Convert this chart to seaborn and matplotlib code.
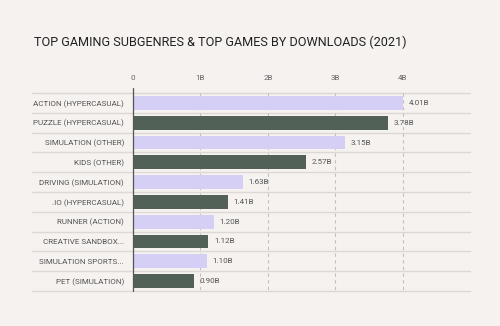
import matplotlib
matplotlib.use("Agg")
import matplotlib.pyplot as plt
import matplotlib.transforms as mtransforms
import seaborn as sns
import pandas as pd

categories = ["ACTION (HYPERCASUAL)", "PUZZLE (HYPERCASUAL)", "SIMULATION (OTHER)",
              "KIDS (OTHER)", "DRIVING (SIMULATION)", ".IO (HYPERCASUAL)",
              "RUNNER (ACTION)", "CREATIVE SANDBOX...", "SIMULATION SPORTS...",
              "PET (SIMULATION)"]
downloads = [4.01, 3.78, 3.15, 2.57, 1.63, 1.41, 1.20, 1.12, 1.10, 0.90]
value_labels = ["4.01B", "3.78B", "3.15B", "2.57B", "1.63B", "1.41B", "1.20B",
                "1.12B", "1.10B", "0.90B"]
tick_values = [0, 1, 2, 3, 4]
tick_labels = ["0", "1B", "2B", "3B", "4B"]
title = "TOP GAMING SUBGENRES & TOP GAMES BY DOWNLOADS (2021)"

BG = "#f5f2f0"
LIGHT = "#d1c9fc"
DARK = "#4f6357"
colors = [LIGHT if i % 2 == 0 else DARK for i in range(len(categories))]

df = pd.DataFrame({"category": categories, "downloads": downloads})

sns.set_theme(style="white")
plt.rcParams["font.family"] = ["Roboto", "DejaVu Sans"]

fig = plt.figure(figsize=(5, 3.26), dpi=100, facecolor=BG)
ax = fig.add_axes([0.266, 0.1074, 0.674, 0.6073], facecolor=BG)

sns.barplot(data=df, y="category", x="downloads", hue="category",
            palette=colors, legend=False, orient="h", width=0.7,
            edgecolor="none", ax=ax, zorder=3)

ax.set_xlim(0, 5.0)
ax.set_ylim(len(categories) - 0.5, -0.5)
ax.set_xlabel("")
ax.set_ylabel("")
for s in ax.spines.values():
    s.set_visible(False)

ax.xaxis.tick_top()
ax.set_xticks(tick_values)
ax.set_xticklabels(tick_labels, fontsize=5.8, color="#666666")
ax.tick_params(axis="x", length=0, pad=9)
ax.tick_params(axis="y", length=0, pad=6.5)
for lbl in ax.get_yticklabels():
    lbl.set_fontsize(5.8)
    lbl.set_color("#555555")

# vertical grid lines
for t in tick_values[1:]:
    ax.plot([t, t], [-0.5, len(categories) - 0.5], color="#c4c0be", lw=0.8,
            ls=(0, (3, 3)), zorder=1)
ax.plot([0, 0], [-0.75, len(categories) - 0.5], color="#555555", lw=0.9,
        zorder=4, clip_on=False)

# row separators
trans = mtransforms.blended_transform_factory(fig.transFigure, ax.transData)
for y in [i - 0.5 for i in range(len(categories) + 1)]:
    ax.plot([0.064, 0.94], [y, y], transform=trans, color="#dcd8d6", lw=1.0,
            zorder=0, clip_on=False)

# value labels
for i, (v, lab) in enumerate(zip(downloads, value_labels)):
    ax.text(v + 0.08, i, lab, va="center", ha="left", fontsize=5.8,
            color="#555555", zorder=5)

fig.text(0.068, 0.87, title, fontsize=9.1, color="#222222",
         family=["Roboto", "DejaVu Sans"], va="center")

fig.savefig("out.png", dpi=100, facecolor=BG)
